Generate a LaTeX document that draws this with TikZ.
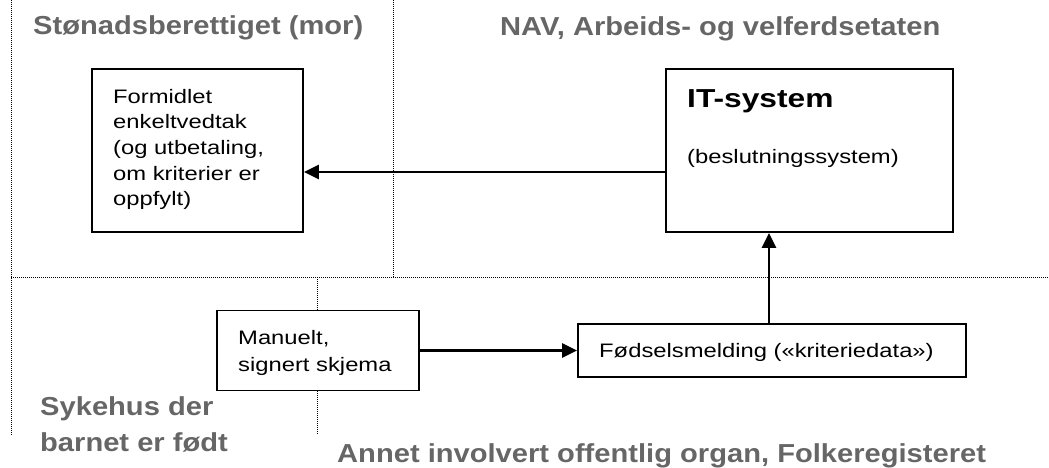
\documentclass[tikz,border=0pt]{standalone}
\usepackage{fontspec}
\setmainfont{Liberation Sans}[FakeStretch=1.22]
\newfontfamily\hdrfont{Liberation Sans}[FakeStretch=1.12]
\usetikzlibrary{arrows.meta}
\definecolor{hdrgray}{HTML}{666666}
\tikzset{
  box/.style={draw=black, fill=white, line width=1.9pt, rectangle, inner sep=0pt},
  arr/.style={line width=2.6pt, -{Triangle[length=15pt,width=14pt]}},
  lane/.style={line width=1pt, dash pattern=on 1pt off 1pt, black},
  hdr/.style={inner sep=0pt, anchor=base west, text=hdrgray, font=\hdrfont\bfseries\fontsize{26}{36}\selectfont, align=left},
  body/.style={inner sep=0pt, anchor=base west, font=\fontsize{19.5}{25.7}\selectfont, align=left},
}
\begin{document}
\begin{tikzpicture}[x=1pt, y=-1pt]
\useasboundingbox (0,0) rectangle (1049,468);
% swimlane separators
\draw[lane] (11,0) -- (11,435);
\draw[lane] (393,0) -- (393,277);
\draw[lane] (11,277) -- (1049,277);
\draw[lane] (317,277) -- (317,435);
% lane titles
\node[hdr] (t1) at (33,35) {Stønadsberettiget (mor)};
\node[hdr] (t2) at (500,36) {NAV, Arbeids- og velferdsetaten};
\node[hdr] (t3) at (40,451) {Sykehus der\\barnet er født};
\node[hdr] (t4) at (337,462) {Annet involvert offentlig organ, Folkeregisteret};
% boxes
\node[box, minimum width=211pt, minimum height=163pt] (vedtak) at (197.5,150.5) {};
\node[box, minimum width=287pt, minimum height=163pt] (it) at (809.5,150.5) {};
\node[box, minimum width=202pt, minimum height=80pt] (man) at (318,350.5) {};
\node[box, minimum width=388pt, minimum height=53pt] (fod) at (772,350.5) {};
% box texts
\node[body] (vedtakT) at (113,205.8) {Formidlet\\enkeltvedtak\\(og utbetaling,\\om kriterier er\\oppfylt)};
\node[inner sep=0pt, anchor=base west, font=\bfseries\fontsize{26}{30}\selectfont] (itT) at (687,108) {IT-system};
\node[body] (itS) at (687,163) {(beslutningssystem)};
\node[body, font=\fontsize{19.5}{26.7}\selectfont] (manT) at (238,371) {Manuelt,\\signert skjema};
\node[body] (fodT) at (599,357) {Fødselsmelding («kriteriedata»)};
% connectors
\draw[arr] ([yshift=-21.5pt]it.west) -- ([yshift=-21.5pt]vedtak.east);
\draw[arr] (man.east) -- (fod.west);
\draw[arr] ([xshift=-3pt]fod.north) -- ([xshift=-3pt]fod.north |- it.south);
\end{tikzpicture}
\end{document}
